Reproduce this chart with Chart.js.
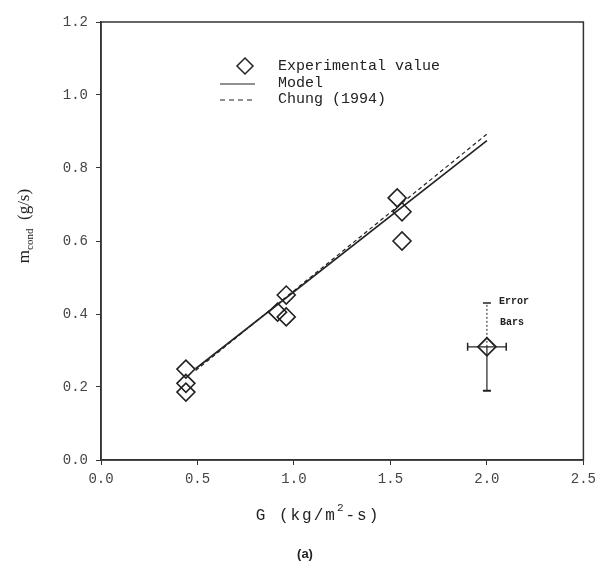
<!DOCTYPE html>
<html>
<head>
<meta charset="utf-8">
<script src="https://cdn.jsdelivr.net/npm/chart.js@4.4.0/dist/chart.umd.min.js"></script>
<style>
  html, body { margin: 0; padding: 0; background: #fff; }
  #wrap { width: 602px; height: 564px; }
</style>
</head>
<body>
<div id="wrap"><canvas id="c" width="602" height="564"></canvas></div>
<script>
// measured points (G in kg/m2-s, m_cond in g/s)
var expG = [0.44, 0.44, 0.44, 0.96, 0.915, 0.96, 1.535, 1.56, 1.56];
var expM = [0.249, 0.21, 0.186, 0.452, 0.405, 0.392, 0.718, 0.68, 0.60];

// model and Chung (1994) correlation lines
var modelG = [0.49, 2.0];
var modelM = [0.25, 0.875];
var chungG = [0.49, 2.0];
var chungM = [0.245, 0.893];

// sample error bar
var errG = 2.0;
var errM = 0.31;
var errGRange = [1.9, 2.1];
var errMLow = 0.19;
var errMHigh = 0.43;

var xTicks = [0, 0.5, 1.0, 1.5, 2.0, 2.5];
var yTicks = [0, 0.2, 0.4, 0.6, 0.8, 1.0, 1.2];

var ink = "#222";

function pts(xs, ys) {
  return xs.map(function (x, i) { return { x: x, y: ys[i] }; });
}

// draws pieces of text one after another, each with its own font and shift
function runs(ctx, parts, x, y) {
  var total = 0;
  parts.forEach(function (p) { ctx.font = p.font; total += ctx.measureText(p.text).width; });
  var cx = x - total / 2;
  parts.forEach(function (p) {
    ctx.font = p.font;
    ctx.fillText(p.text, cx, y + (p.dy || 0));
    cx += ctx.measureText(p.text).width;
  });
}

// box + legend + axis titles
var decor = {
  id: "decor",
  afterDraw: function (chart) {
    var ctx = chart.ctx;
    var a = chart.chartArea;
    ctx.save();
    ctx.strokeStyle = "#333";
    ctx.lineWidth = 1.5;
    ctx.strokeRect(a.left, a.top, a.right - a.left, a.bottom - a.top);

    // legend
    ctx.fillStyle = ink;
    ctx.strokeStyle = ink;
    ctx.font = "15px 'Liberation Mono'";
    ctx.textBaseline = "middle";
    ctx.lineWidth = 1.5;
    var lx = a.left + 119, ly = a.top + 44;
    ctx.beginPath();
    ctx.moveTo(lx + 25, ly - 8); ctx.lineTo(lx + 33, ly); ctx.lineTo(lx + 25, ly + 8); ctx.lineTo(lx + 17, ly); ctx.closePath();
    ctx.stroke();
    ctx.fillText("Experimental value", lx + 58, ly);
    ctx.lineWidth = 1.2;
    ctx.beginPath(); ctx.moveTo(lx, ly + 18); ctx.lineTo(lx + 35, ly + 18); ctx.stroke();
    ctx.fillText("Model", lx + 58, ly + 17);
    ctx.setLineDash([5, 4]);
    ctx.beginPath(); ctx.moveTo(lx, ly + 34); ctx.lineTo(lx + 35, ly + 34); ctx.stroke();
    ctx.setLineDash([]);
    ctx.fillText("Chung (1994)", lx + 58, ly + 33);

    // error bar label
    ctx.font = "bold 10px 'Liberation Mono'";
    var ex = chart.scales.x.getPixelForValue(errG) + 12;
    ctx.fillText("Error", ex, chart.scales.y.getPixelForValue(errMHigh) - 2);
    ctx.fillText("Bars", ex + 1, chart.scales.y.getPixelForValue(errMHigh) + 19);

    // x title
    ctx.letterSpacing = "2px";
    runs(ctx, [
      { text: "G (kg/m", font: "16px 'Liberation Mono'" },
      { text: "2", font: "11px 'Liberation Mono'", dy: -8 },
      { text: "-s)", font: "16px 'Liberation Mono'" }
    ], 318, a.bottom + 56);
    ctx.letterSpacing = "0px";
    ctx.textAlign = "center";
    ctx.font = "bold 13px 'Liberation Sans'";
    ctx.fillText("(a)", 305, a.bottom + 94);
    ctx.textAlign = "left";

    // y title
    ctx.translate(25, 226);
    ctx.rotate(-Math.PI / 2);
    runs(ctx, [
      { text: "m", font: "17px 'Liberation Serif'" },
      { text: "cond", font: "11px 'Liberation Serif'", dy: 5 },
      { text: "  (g/s)", font: "17px 'Liberation Serif'" }
    ], 0, 0);
    ctx.restore();
  }
};

new Chart(document.getElementById("c"), {
  type: "scatter",
  data: {
    datasets: [
      {
        label: "Model",
        type: "line",
        data: pts(modelG, modelM),
        borderColor: ink,
        borderWidth: 1.6,
        pointRadius: 0,
        fill: false
      },
      {
        label: "Chung (1994)",
        type: "line",
        data: pts(chungG, chungM),
        borderColor: ink,
        borderWidth: 1.2,
        borderDash: [4, 3],
        pointRadius: 0,
        fill: false
      },
      {
        label: "Experimental value",
        data: pts(expG, expM),
        pointStyle: "rectRot",
        pointRadius: 9,
        pointBorderWidth: 1.6,
        pointBorderColor: ink,
        pointBackgroundColor: "rgba(0,0,0,0)"
      },
      {
        label: "err low",
        type: "line",
        data: [{ x: errG, y: errMLow }, { x: errG, y: errM }],
        borderColor: ink,
        borderWidth: 1.2,
        pointStyle: "line",
        pointRadius: [4, 0],
        pointBorderWidth: 2,
        pointBorderColor: ink
      },
      {
        label: "err high",
        type: "line",
        data: [{ x: errG, y: errM }, { x: errG, y: errMHigh }],
        borderColor: ink,
        borderWidth: 1,
        borderDash: [2, 2],
        pointStyle: "line",
        pointRadius: [0, 4],
        pointBorderWidth: 1.5,
        pointBorderColor: ink
      },
      {
        label: "err side",
        type: "line",
        data: [{ x: errGRange[0], y: errM }, { x: errGRange[1], y: errM }],
        borderColor: ink,
        borderWidth: 1.2,
        pointStyle: "line",
        pointRotation: 90,
        pointRadius: 4,
        pointBorderWidth: 1.5,
        pointBorderColor: ink
      },
      {
        label: "err point",
        data: [{ x: errG, y: errM }],
        pointStyle: "rectRot",
        pointRadius: 9,
        pointBorderWidth: 1.8,
        pointBorderColor: ink,
        pointBackgroundColor: "#fff"
      }
    ]
  },
  options: {
    responsive: false,
    animation: false,
    layout: { padding: { left: 0, top: 22, right: 17, bottom: 0 } },
    plugins: {
      legend: { display: false },
      tooltip: { enabled: false }
    },
    scales: {
      x: {
        type: "linear",
        min: 0,
        max: 2.5,
        afterFit: function (s) { s.height = 104; },
        afterBuildTicks: function (s) { s.ticks = xTicks.map(function (v) { return { value: v }; }); },
        grid: { drawOnChartArea: false, tickLength: 5, color: "#333" },
        border: { color: "#333", width: 1.5 },
        ticks: {
          padding: 6,
          color: "#444",
          font: { family: "'Liberation Mono'", size: 14 },
          callback: function (v) { return v.toFixed(1); }
        }
      },
      y: {
        type: "linear",
        min: 0,
        max: 1.2,
        afterFit: function (s) { s.width = 101; },
        afterBuildTicks: function (s) { s.ticks = yTicks.map(function (v) { return { value: v }; }); },
        grid: { drawOnChartArea: false, tickLength: 5, color: "#333" },
        border: { color: "#333", width: 1.5 },
        ticks: {
          padding: 8,
          color: "#444",
          font: { family: "'Liberation Mono'", size: 14 },
          callback: function (v) { return v.toFixed(1); }
        }
      }
    }
  },
  plugins: [decor]
});
</script>
</body>
</html>
